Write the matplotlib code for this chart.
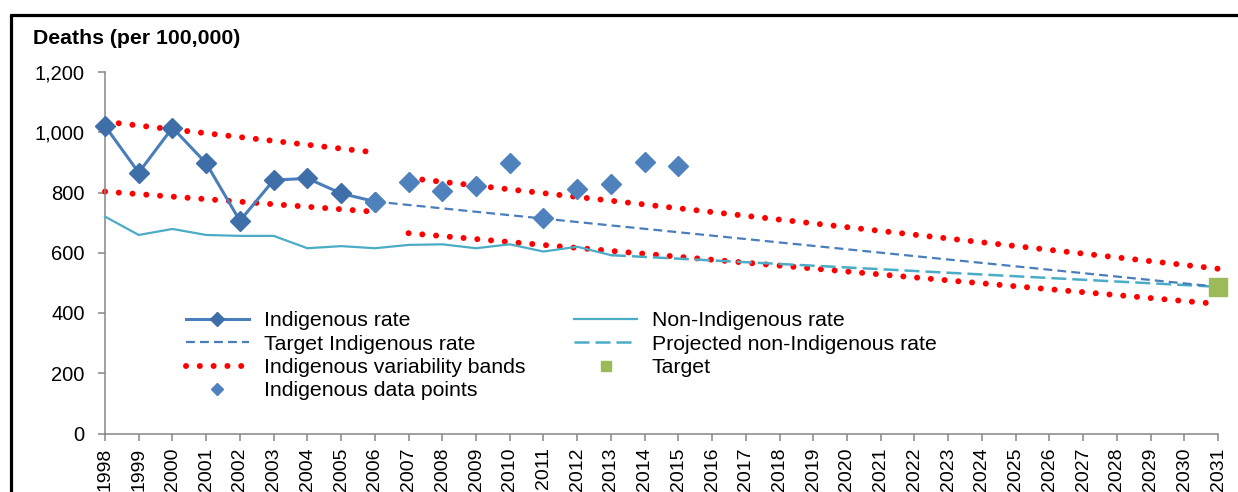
import matplotlib
matplotlib.use("Agg")
import matplotlib.pyplot as plt
from matplotlib.lines import Line2D
from matplotlib.ticker import FuncFormatter

plt.rcParams["font.family"] = ["Liberation Sans", "DejaVu Sans"]

# ── data ─────────────────────────────────────────────────────────────────────
years_ind = [1998, 1999, 2000, 2001, 2002, 2003, 2004, 2005, 2006]
ind_rate = [1021, 866, 1015, 897, 706, 841, 847, 797, 770]

years_pts = [2007, 2008, 2009, 2010, 2011, 2012, 2013, 2014, 2015]
ind_pts = [836, 805, 821, 897, 716, 810, 829, 902, 888]

years_non = [1998, 1999, 2000, 2001, 2002, 2003, 2004, 2005, 2006, 2007,
             2008, 2009, 2010, 2011, 2012, 2013]
non_rate = [720, 659, 679, 659, 656, 656, 615, 622, 615, 626,
            628, 615, 628, 604, 620, 592]

years_proj = [2013, 2031]
non_proj = [592, 487]

years_target = [2006, 2031]
target_rate = [770, 487]

band1_years = [1998, 2006]
band1_upper = [1035, 933]
band1_lower = [803, 736]
band2_years = [2007, 2031]
band2_upper = [848, 547]
band2_lower = [665, 430]

target_year = [2031]
target_val = [487]

# ── colours ──────────────────────────────────────────────────────────────────
BLUE = "#4A7EBB"
BLUE_PT = "#4F81BD"
TEAL = "#4BACC6"
RED = "#FF0000"
GREEN = "#9BBB59"
AXIS = "#868686"

fig = plt.figure(figsize=(12.38, 4.92), dpi=100)
ax = fig.add_axes([105 / 1238, 1 - 433.5 / 492, 1113 / 1238, 361.5 / 492])

# outer frame (top + left visible)
fig.add_artist(Line2D([10 / 1238, 1.01], [1 - 15 / 492] * 2, color="black", lw=2.3,
                      transform=fig.transFigure, solid_capstyle="butt"))
fig.add_artist(Line2D([10.5 / 1238] * 2, [-0.05, 1 - 14 / 492], color="black", lw=2.3,
                      transform=fig.transFigure, solid_capstyle="butt"))

DOTS = (0, (0.01, 2.3))
for yrs, up, lo in [(band1_years, band1_upper, band1_lower),
                    (band2_years, band2_upper, band2_lower)]:
    for vals in (up, lo):
        ax.plot(yrs, vals, color=RED, lw=4.3, linestyle=DOTS,
                dash_capstyle="round", zorder=2, clip_on=False)

ax.plot(years_non, non_rate, color=TEAL, lw=1.6, zorder=3, clip_on=False)
ax.plot(years_proj, non_proj, color=TEAL, lw=1.8, linestyle=(0, (6, 2.4)), zorder=3)
ax.plot(years_target, target_rate, color=BLUE, lw=1.6, linestyle=(0, (4, 2.3)), zorder=3)
ax.plot(years_ind, ind_rate, color=BLUE, lw=2.2, marker="D", ms=10,
        markerfacecolor="#3F6FA8", markeredgecolor="#3F6FA8", zorder=4, clip_on=False)
ax.plot(years_ind[-1:], ind_rate[-1:], linestyle="none", marker="D", ms=10,
        color=BLUE_PT, zorder=5)
ax.plot(years_pts, ind_pts, linestyle="none", marker="D", ms=10, color=BLUE_PT, zorder=5)
ax.plot(target_year, target_val, linestyle="none", marker="s", ms=13.5, color=GREEN,
        zorder=6, clip_on=False)

# ── axes ─────────────────────────────────────────────────────────────────────
ax.set_xlim(1998, 2031)
ax.set_ylim(0, 1200)
ax.set_xticks(range(1998, 2032))
ax.set_xticklabels([str(y) for y in range(1998, 2032)], rotation=90, fontsize=14)
ax.set_yticks(range(0, 1201, 200))
ax.yaxis.set_major_formatter(FuncFormatter(lambda v, p: f"{int(v):,}"))
ax.tick_params(axis="y", labelsize=14.5, length=5, width=1.1, color=AXIS, pad=9.5)
ax.tick_params(axis="x", length=5, width=1.1, color=AXIS, pad=5)
for s in ("top", "right"):
    ax.spines[s].set_visible(False)
for s in ("left", "bottom"):
    ax.spines[s].set_color(AXIS)
    ax.spines[s].set_linewidth(1.1)

fig.text(33 / 1238, 1 - 38 / 492, "Deaths (per 100,000)", fontsize=15.3,
         fontweight="bold", ha="left", va="center")

# ── legend ───────────────────────────────────────────────────────────────────
handles = [
    Line2D([], [], color=BLUE, lw=2.2, marker="D", ms=7, markerfacecolor="#3F6FA8",
           markeredgecolor="#3F6FA8"),
    Line2D([], [], color=BLUE, lw=1.6, linestyle=(0, (4, 2.3))),
    Line2D([], [], color=RED, lw=4.3, linestyle=DOTS, dash_capstyle="round"),
    Line2D([], [], linestyle="none", marker="D", ms=6, color=BLUE_PT),
    Line2D([], [], color=TEAL, lw=1.6),
    Line2D([], [], color=TEAL, lw=1.8, linestyle=(0, (6, 2.4))),
    Line2D([], [], linestyle="none", marker="s", ms=7, color=GREEN),
]
labels = ["Indigenous rate", "Target Indigenous rate", "Indigenous variability bands",
          "Indigenous data points", "Non-Indigenous rate", "Projected non-Indigenous rate",
          "Target"]
fig.legend(handles, labels, ncol=2, loc="upper left",
           bbox_to_anchor=(186 / 1238, 1 - 311.5 / 492), frameon=False, fontsize=15.3,
           handlelength=2.96, handletextpad=0.7, columnspacing=2.3, labelspacing=0.2,
           borderpad=0, borderaxespad=0)

fig.savefig("out.png", dpi=100, facecolor="white")
